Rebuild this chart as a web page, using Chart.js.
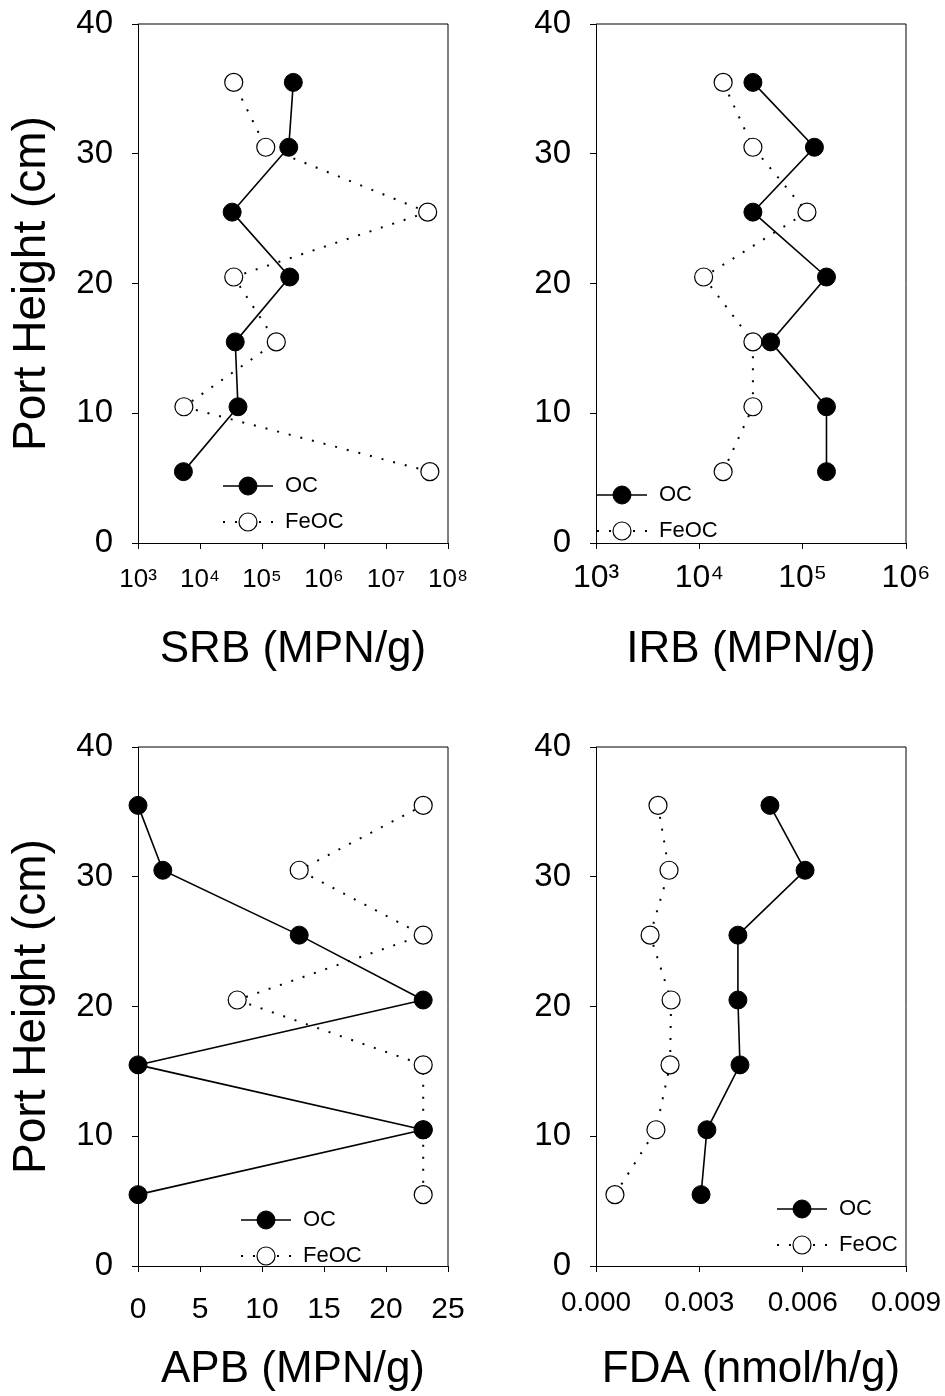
<!DOCTYPE html>
<html>
<head>
<meta charset="utf-8">
<script src="https://cdn.jsdelivr.net/npm/chart.js@4.4.1/dist/chart.umd.min.js"></script>
<style>
  html, body { margin: 0; padding: 0; background: #fff; }
  body { width: 945px; height: 1396px; position: relative; overflow: hidden; }
  canvas { position: absolute; }
</style>
</head>
<body>
<canvas id="srb" width="472" height="698" style="left:0;top:0"></canvas>
<canvas id="irb" width="473" height="698" style="left:472px;top:0"></canvas>
<canvas id="apb" width="472" height="698" style="left:0;top:698px"></canvas>
<canvas id="fda" width="473" height="698" style="left:472px;top:698px"></canvas>
<script>
// sampling ports (cm), bottom to top
const portHeight = [5.5, 10.5, 15.5, 20.5, 25.5, 30.5, 35.5];
const seriesNames = ['OC', 'FeOC'];

const srbOC = [5.4e3, 4.1e4, 3.7e4, 2.8e5, 3.3e4, 2.7e5, 3.2e5];
const srbFeOC = [5.1e7, 5.5e3, 1.7e5, 3.5e4, 4.7e7, 1.15e5, 3.5e4];
const irbOC = [1.7e5, 1.7e5, 4.9e4, 1.7e5, 3.3e4, 1.3e5, 3.3e4];
const irbFeOC = [1.7e4, 3.3e4, 3.3e4, 1.1e4, 1.1e5, 3.3e4, 1.7e4];
const apbOC = [0, 23, 0, 23, 13, 2, 0];
const apbFeOC = [23, 23, 23, 8, 23, 13, 23];
const fdaOC = [0.00305, 0.00322, 0.00418, 0.00412, 0.00412, 0.00607, 0.00505];
const fdaFeOC = [0.00055, 0.00174, 0.00215, 0.00218, 0.00157, 0.00212, 0.0018];

const heightTicks = [0, 10, 20, 30, 40];
const srbTicks = [1e3, 1e4, 1e5, 1e6, 1e7, 1e8];
const irbTicks = [1e3, 1e4, 1e5, 1e6];
const apbTicks = [0, 5, 10, 15, 20, 25];
const fdaTicks = [0, 0.003, 0.006, 0.009];

const FONT = "'Liberation Sans', Arial, sans-serif";
const supDigits = '⁰¹²³⁴⁵⁶⁷⁸⁹';

// top and right sides of the plot frame
const boxPlugin = {
    id: 'box',
    beforeDatasetsDraw(chart) {
        const { ctx, chartArea: a } = chart;
        ctx.save();
        ctx.strokeStyle = '#000';
        ctx.lineWidth = 1;
        ctx.beginPath();
        ctx.moveTo(a.left, a.top);
        ctx.lineTo(a.right, a.top);
        ctx.lineTo(a.right, a.bottom);
        ctx.stroke();
        ctx.restore();
    }
};

// small in-plot key, one row per dataset
const keyPlugin = {
    id: 'key',
    afterDraw(chart, args, opts) {
        const { ctx, chartArea: a } = chart;
        chart.data.datasets.forEach((ds, i) => {
            const x0 = a.left + opts.x;
            const y = a.top + opts.y + i * opts.rowGap;
            ctx.save();
            ctx.strokeStyle = ds.borderColor;
            ctx.lineWidth = ds.borderWidth;
            ctx.setLineDash(ds.borderDash || []);
            ctx.beginPath();
            ctx.moveTo(x0, y);
            ctx.lineTo(x0 + opts.lineLen, y);
            ctx.stroke();
            ctx.setLineDash([]);
            ctx.beginPath();
            ctx.arc(x0 + opts.lineLen / 2, y, ds.pointRadius, 0, Math.PI * 2);
            ctx.fillStyle = ds.pointBackgroundColor;
            ctx.fill();
            ctx.lineWidth = ds.pointBorderWidth;
            ctx.strokeStyle = ds.pointBorderColor;
            ctx.stroke();
            ctx.fillStyle = '#000';
            ctx.font = opts.fontSize + 'px ' + FONT;
            ctx.textBaseline = 'middle';
            ctx.fillText(ds.label, x0 + opts.lineLen + opts.textGap, y);
            ctx.restore();
        });
    }
};

function seriesSets(ocVals, feVals) {
    return [
        {
            label: seriesNames[0],
            data: ocVals.map((v, i) => ({ x: v, y: portHeight[i] })),
            showLine: true,
            borderColor: '#000',
            borderWidth: 1.6,
            pointRadius: 9,
            pointBackgroundColor: '#000',
            pointBorderColor: '#000',
            pointBorderWidth: 1,
            clip: false,
            order: 0
        },
        {
            label: seriesNames[1],
            data: feVals.map((v, i) => ({ x: v, y: portHeight[i] })),
            showLine: true,
            borderColor: '#000',
            borderWidth: 2,
            borderDash: [2, 10],
            pointRadius: 9,
            pointBackgroundColor: '#fff',
            pointBorderColor: '#000',
            pointBorderWidth: 1.2,
            clip: false,
            order: 1
        }
    ];
}

function drawPanel(id, p) {
    const canvas = document.getElementById(id);
    const w = canvas.width, h = canvas.height;
    const xAxis = {
        type: p.log ? 'logarithmic' : 'linear',
        position: 'bottom',
        min: p.xTicks[0],
        max: p.xTicks[p.xTicks.length - 1],
        afterBuildTicks: s => { s.ticks = p.xTicks.map(v => ({ value: v, major: true })); },
        afterFit: s => {
            s.height = h - p.area.b;
            s.paddingLeft = 0; s.paddingRight = 0;
        },
        ticks: {
            font: { family: FONT, size: p.xFont },
            color: '#000',
            padding: p.xPad,
            maxRotation: 0,
            autoSkip: false,
            callback: p.xLabel
        },
        grid: { drawOnChartArea: false, tickLength: 6, color: '#000' },
        border: { color: '#000', width: 1 },
        title: {
            display: true,
            text: p.xTitle,
            font: { family: FONT, size: 44 },
            color: '#000',
            padding: { top: 0, bottom: p.titlePad }
        }
    };
    const yAxis = {
        type: 'linear',
        position: 'left',
        min: 0,
        max: 40,
        afterBuildTicks: s => { s.ticks = heightTicks.map(v => ({ value: v })); },
        afterFit: s => {
            s.width = p.area.l;
            s.paddingTop = 0; s.paddingBottom = 0;
        },
        ticks: { font: { family: FONT, size: 33 }, color: '#000', padding: 19 },
        grid: { drawOnChartArea: false, tickLength: 6, color: '#000' },
        border: { color: '#000', width: 1 },
        title: {
            display: p.yTitle,
            text: 'Port Height (cm)',
            font: { family: FONT, size: 46 },
            color: '#000',
            padding: { top: 5, bottom: 0 }
        }
    };

    new Chart(canvas.getContext('2d'), {
        type: 'scatter',
        data: { datasets: seriesSets(p.oc, p.fe) },
        options: {
            responsive: false,
            animation: false,
            events: [],
            layout: { padding: { left: 0, top: p.area.t, right: w - p.area.r, bottom: 0 } },
            scales: { x: xAxis, y: yAxis },
            plugins: {
                legend: { display: false },
                tooltip: { enabled: false },
                key: { x: p.key.x, y: p.key.y, rowGap: 36, lineLen: 50, textGap: 12, fontSize: 22 }
            }
        },
        plugins: [boxPlugin, keyPlugin]
    });
}

const powerLabel = v => '10' + supDigits[Math.round(Math.log10(v))];

drawPanel('srb', {
    log: true, xTicks: srbTicks, xLabel: powerLabel, xFont: 26, xPad: 15,
    xTitle: 'SRB (MPN/g)', titlePad: 22, yTitle: true,
    oc: srbOC, fe: srbFeOC,
    area: { l: 138, r: 448, t: 24, b: 543 },
    key: { x: 85, y: 462 }
});
drawPanel('irb', {
    log: true, xTicks: irbTicks, xLabel: powerLabel, xFont: 32, xPad: 10,
    xTitle: 'IRB (MPN/g)', titlePad: 22, yTitle: false,
    oc: irbOC, fe: irbFeOC,
    area: { l: 124, r: 434, t: 24, b: 543 },
    key: { x: 1, y: 471 }
});
drawPanel('apb', {
    log: false, xTicks: apbTicks, xLabel: v => String(v), xFont: 30, xPad: 20,
    xTitle: 'APB (MPN/g)', titlePad: 0, yTitle: true,
    oc: apbOC, fe: apbFeOC,
    area: { l: 138, r: 448, t: 49, b: 568 },
    key: { x: 103, y: 473 }
});
drawPanel('fda', {
    log: false, xTicks: fdaTicks, xLabel: v => v.toFixed(3), xFont: 28, xPad: 14,
    xTitle: 'FDA (nmol/h/g)', titlePad: 0, yTitle: false,
    oc: fdaOC, fe: fdaFeOC,
    area: { l: 124, r: 434, t: 49, b: 568 },
    key: { x: 181, y: 462 }
});
</script>
</body>
</html>
